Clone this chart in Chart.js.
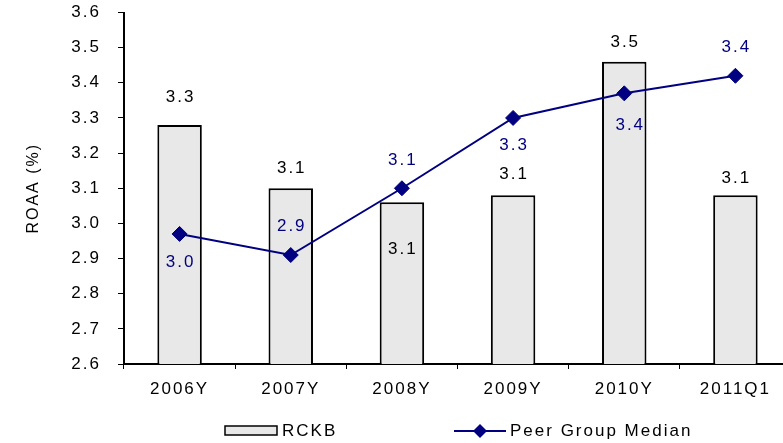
<!DOCTYPE html>
<html>
<head>
<meta charset="utf-8">
<title>ROAA</title>
<script src="https://cdn.jsdelivr.net/npm/chart.js@4/dist/chart.umd.min.js"></script>
<style>
  html, body { margin: 0; padding: 0; background: #fff; overflow: hidden; }
  #wrap { width: 800px; height: 443px; }
</style>
</head>
<body>
<div id="wrap"><canvas id="roaaChart" width="800" height="443"></canvas></div>
<script>
const periods = ['2006Y', '2007Y', '2008Y', '2009Y', '2010Y', '2011Q1'];
const rckbRoaa = [3.28, 3.10, 3.06, 3.08, 3.46, 3.08];
const peerMedianRoaa = [2.97, 2.91, 3.10, 3.30, 3.37, 3.42];
const yMin = 2.6;
const yMax = 3.6;
const yStep = 0.1;

const NAVY = '#000080';
const BAR_FILL = '#e8e8e8';
const FONT = { family: "'Liberation Sans', Arial, sans-serif", size: 17 };
const FONT_CSS = "17px 'Liberation Sans', Arial, sans-serif";

// the old export renders text wide, so space the letters out a bit
function widenText(chart) {
    chart.ctx.letterSpacing = '2px';
}

const wideText = {
    id: 'wideText',
    beforeLayout: widenText,
    beforeDraw: widenText
};

// value labels next to each bar / marker
const valueLabels = {
    id: 'valueLabels',
    afterDatasetsDraw(chart, args, opts) {
        const c = chart.ctx;
        c.save();
        c.font = FONT_CSS;
        c.textAlign = 'center';
        c.textBaseline = 'middle';
        chart.data.datasets.forEach((ds, i) => {
            const meta = chart.getDatasetMeta(i);
            const shift = opts[ds.label];
            c.fillStyle = shift.color;
            meta.data.forEach((el, j) => {
                const dx = shift.dx ? shift.dx[j] : 0;
                c.fillText(ds.data[j].toFixed(1), el.x + dx + 1, el.y + shift.dy[j]);
            });
        });
        c.restore();
    }
};

// legend under the axis: grey box for the bars, line with diamond for the median
const bottomLegend = {
    id: 'bottomLegend',
    afterDraw(chart) {
        const c = chart.ctx;
        const y = 431;
        c.save();
        c.fillStyle = BAR_FILL;
        c.strokeStyle = '#000';
        c.lineWidth = 1.5;
        c.fillRect(225, y - 5, 52, 9);
        c.strokeRect(225, y - 5, 52, 9);

        c.strokeStyle = NAVY;
        c.lineWidth = 2;
        c.beginPath();
        c.moveTo(454, y);
        c.lineTo(506, y);
        c.stroke();
        c.fillStyle = NAVY;
        c.beginPath();
        c.moveTo(480, y - 7);
        c.lineTo(487, y);
        c.lineTo(480, y + 7);
        c.lineTo(473, y);
        c.closePath();
        c.fill();

        c.font = FONT_CSS;
        c.fillStyle = '#000';
        c.textAlign = 'left';
        c.textBaseline = 'middle';
        c.fillText('RCKB', 282, y);
        c.fillText('Peer Group Median', 510, y);
        c.restore();
    }
};

document.addEventListener('DOMContentLoaded', function() {
    const ctx = document.getElementById('roaaChart').getContext('2d');
    new Chart(ctx, {
        data: {
            labels: periods,
            datasets: [
                {
                    type: 'line',
                    label: 'Peer Group Median',
                    data: peerMedianRoaa,
                    order: 0,
                    borderColor: NAVY,
                    borderWidth: 2,
                    pointStyle: 'rectRot',
                    pointRadius: 7.5,
                    pointBackgroundColor: NAVY,
                    pointBorderColor: NAVY,
                    pointBorderWidth: 1,
                    tension: 0
                },
                {
                    type: 'bar',
                    label: 'RCKB',
                    data: rckbRoaa,
                    order: 1,
                    backgroundColor: BAR_FILL,
                    borderColor: '#000',
                    borderWidth: 2,
                    barPercentage: 0.4,
                    categoryPercentage: 1
                }
            ]
        },
        options: {
            responsive: false,
            animation: false,
            layout: { padding: { top: 12.5, right: 9, bottom: 0, left: 0 } },
            plugins: {
                legend: { display: false },
                tooltip: { enabled: false },
                valueLabels: {
                    'RCKB': { color: '#000', dy: [-28, -20, 47, -21, -19, -17] },
                    'Peer Group Median': { color: NAVY, dy: [28, -29, -28, 27, 32, -28], dx: [0, 0, 0, 0, 5, 0] }
                }
            },
            scales: {
                x: {
                    offset: true,
                    afterFit: function(scale) { scale.height = 79; },
                    grid: { offset: true, drawOnChartArea: false, drawTicks: true, tickLength: 5, color: '#000', lineWidth: 1 },
                    border: { display: true, color: '#000', width: 2 },
                    ticks: { color: '#000', font: FONT, padding: 10 }
                },
                y: {
                    min: yMin,
                    max: yMax,
                    afterFit: function(scale) {
                        scale.width = 124;
                        scale.paddingTop = 0;
                        scale.paddingBottom = 0;
                    },
                    grid: { drawOnChartArea: false, drawTicks: true, tickLength: 6, color: '#000', lineWidth: 1 },
                    border: { display: true, color: '#000', width: 2 },
                    ticks: {
                        stepSize: yStep,
                        color: '#000',
                        font: FONT,
                        padding: 17,
                        callback: v => Number(v).toFixed(1)
                    },
                    title: {
                        display: true,
                        text: 'ROAA (%)',
                        color: '#000',
                        font: { family: FONT.family, size: 16 },
                        padding: { top: 24, bottom: 0 }
                    }
                }
            }
        },
        plugins: [wideText, valueLabels, bottomLegend]
    });
});
</script>
</body>
</html>
